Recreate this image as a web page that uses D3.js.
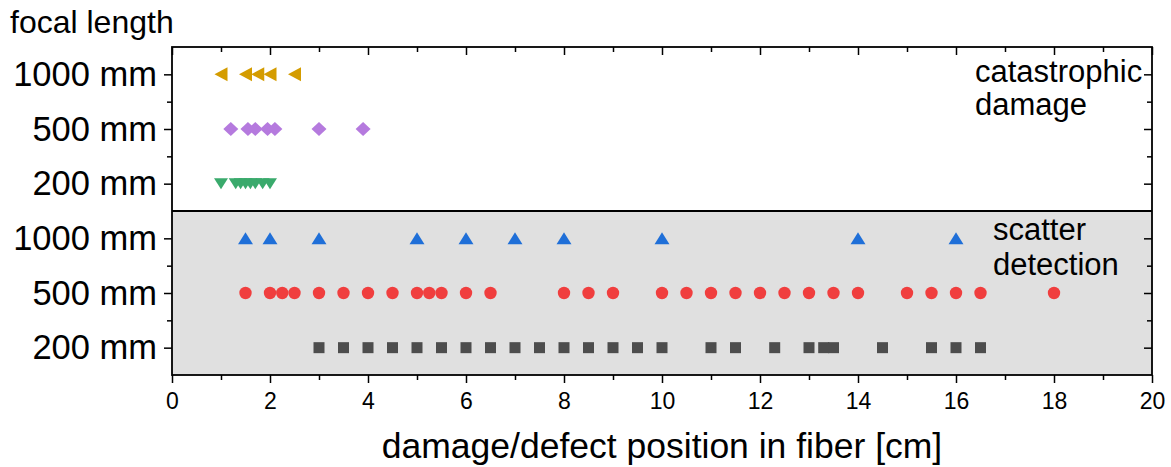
<!DOCTYPE html>
<meta charset="utf-8">
<style>
body { margin: 0; background: white; }
text { font-family: "Liberation Sans", Arial, sans-serif; fill: black; }
.axis path { display: none; }
.axis line { stroke: black; stroke-width: 1.5; }
</style>
<script src="https://d3js.org/d3.v7.min.js"></script>
<body>
<script>
// rows, bottom to top (index 1..6)
const rowLabels = ['200 mm', '500 mm', '1000 mm', '200 mm', '500 mm', '1000 mm'];
const xTicks = [0, 2, 4, 6, 8, 10, 12, 14, 16, 18, 20];

// catastrophic damage
const cd1000 = [1.0, 1.5, 1.75, 2.0, 2.5];
const cd500 = [1.2, 1.55, 1.7, 1.95, 2.1, 3.0, 3.9];
const cd200 = [1.0, 1.3, 1.4, 1.5, 1.6, 1.7, 1.85, 2.0];

// scatter detection
const sd1000 = [1.5, 2, 3, 5, 6, 7, 8, 10, 14, 16];
const sd500 = [1.5, 2, 2.25, 2.5, 3, 3.5, 4, 4.5, 5, 5.25, 5.5, 6, 6.5, 8, 8.5, 9,
  10, 10.5, 11, 11.5, 12, 12.5, 13, 13.5, 14, 15, 15.5, 16, 16.5, 18];
const sd200 = [3, 3.5, 4, 4.5, 5, 5.5, 6, 6.5, 7, 7.5, 8, 8.5, 9, 9.5, 10,
  11, 11.5, 12.3, 13, 13.3, 13.5, 14.5, 15.5, 16, 16.5];

const W = 1171, H = 467;
const margin = { top: 47, right: 19, bottom: 92, left: 172 };
const width = W - margin.left - margin.right;
const height = H - margin.top - margin.bottom;

const svg = d3.select('body').append('svg')
    .attr('width', W)
    .attr('height', H)
  .append('g')
    .attr('transform', `translate(${margin.left},${margin.top})`);

const x = d3.scaleLinear().domain([0, 20]).range([0, width]);
const y = d3.scaleLinear().domain([0.5, 6.5]).range([height, 0]);

// shaded scatter-detection region
svg.append('rect')
  .attr('x', 0).attr('width', width)
  .attr('y', y(3.5)).attr('height', height - y(3.5))
  .attr('fill', '#e0e0e0');

// marker shapes
const shapes = {
  left: 'M-6.5,0L6.5,-7L6.5,7Z',
  down: 'M-7,-5.5L7,-5.5L0,5.5Z',
  diamond: 'M-7.5,0L0,-7L7.5,0L0,7Z',
  up: 'M-7.5,6L0,-6L7.5,6Z',
  square: 'M-5.5,-5.5H5.5V5.5H-5.5Z'
};

const series = [
  { data: cd1000, row: 6, shape: 'left', color: '#d49c00' },
  { data: cd500, row: 5, shape: 'diamond', color: '#b57ade' },
  { data: cd200, row: 4, shape: 'down', color: '#3aaa6c' },
  { data: sd1000, row: 3, shape: 'up', color: '#1f6fd8' },
  { data: sd500, row: 2, shape: 'circle', color: '#f03e3e' },
  { data: sd200, row: 1, shape: 'square', color: '#4d4d4d' }
];

series.forEach(s => {
  const g = svg.append('g');
  if (s.shape === 'circle') {
    g.selectAll('circle').data(s.data).enter().append('circle')
      .attr('cx', d => x(d))
      .attr('cy', y(s.row))
      .attr('r', 6.2)
      .attr('fill', s.color);
  } else {
    g.selectAll('path').data(s.data).enter().append('path')
      .attr('d', shapes[s.shape])
      .attr('transform', d => `translate(${x(d)},${y(s.row)})`)
      .attr('fill', s.color);
  }
});

// axes
const majorY = [1, 2, 3, 4, 5, 6];
const minorY = [1.5, 2.5, 4.5, 5.5];
const minorX = d3.range(1, 20, 2);

svg.append('g').attr('class', 'axis')
  .attr('transform', `translate(0,${height})`)
  .call(d3.axisBottom(x).tickValues(xTicks).tickSize(8).tickPadding(10)
    .tickFormat(d3.format('d')))
  .selectAll('text').style('font-size', '23px');

svg.append('g').attr('class', 'axis')
  .attr('transform', `translate(0,${height})`)
  .call(d3.axisBottom(x).tickValues(minorX).tickSize(5).tickFormat(''));

svg.append('g').attr('class', 'axis')
  .call(d3.axisBottom(x).tickValues(xTicks).tickSize(8).tickFormat(''));
svg.append('g').attr('class', 'axis')
  .call(d3.axisBottom(x).tickValues(minorX).tickSize(5).tickFormat(''));

svg.append('g').attr('class', 'axis')
  .call(d3.axisLeft(y).tickValues(majorY).tickSize(8).tickPadding(7)
    .tickFormat(d => rowLabels[d - 1]))
  .selectAll('text').style('font-size', '34.5px');

svg.append('g').attr('class', 'axis')
  .call(d3.axisLeft(y).tickValues(minorY).tickSize(5).tickFormat(''));

svg.append('g').attr('class', 'axis')
  .attr('transform', `translate(${width},0)`)
  .call(d3.axisLeft(y).tickValues(majorY).tickSize(8).tickFormat(''));
svg.append('g').attr('class', 'axis')
  .attr('transform', `translate(${width},0)`)
  .call(d3.axisLeft(y).tickValues(minorY).tickSize(5).tickFormat(''));

// frame and separator
svg.append('rect')
  .attr('width', width).attr('height', height)
  .attr('fill', 'none').attr('stroke', 'black').attr('stroke-width', 1.8);

svg.append('line')
  .attr('x1', 0).attr('x2', width)
  .attr('y1', y(3.5)).attr('y2', y(3.5))
  .attr('stroke', 'black').attr('stroke-width', 2);

// labels
svg.append('text')
  .attr('x', 10 - margin.left).attr('y', 33 - margin.top)
  .style('font-size', '32px')
  .text('focal length');

svg.append('text')
  .attr('x', width / 2).attr('y', 458 - margin.top)
  .attr('text-anchor', 'middle')
  .style('font-size', '35.5px')
  .text('damage/defect position in fiber [cm]');

const note1 = svg.append('text').style('font-size', '31px');
note1.append('tspan').attr('x', 975 - margin.left).attr('y', 82 - margin.top).text('catastrophic');
note1.append('tspan').attr('x', 975 - margin.left).attr('y', 115 - margin.top).text('damage');

const note2 = svg.append('text').style('font-size', '31px');
note2.append('tspan').attr('x', 993 - margin.left).attr('y', 240 - margin.top).text('scatter');
note2.append('tspan').attr('x', 993 - margin.left).attr('y', 275 - margin.top).text('detection');
</script>
</body>
